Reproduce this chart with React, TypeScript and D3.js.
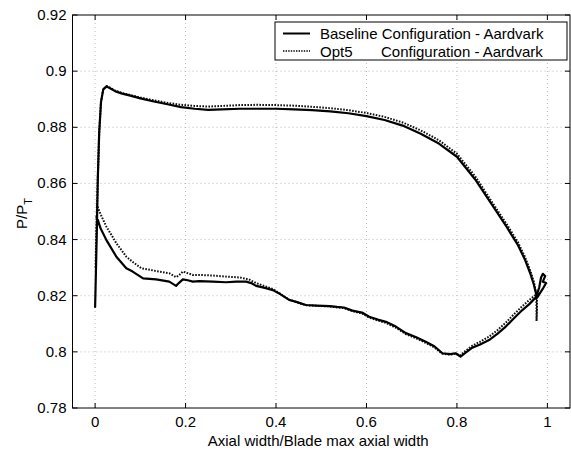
import React from "react";
import * as d3 from "d3";

const xTicks = [0, 0.2, 0.4, 0.6, 0.8, 1];
const yTicks = [0.78, 0.8, 0.82, 0.84, 0.86, 0.88, 0.9, 0.92];
const seriesNames = ["Baseline", "Opt5"];
const legendSuffix = "Configuration - Aardvark";

const baselineUpper: [number, number][] = [
  [0.0, 0.816], [0.002, 0.83], [0.004, 0.845], [0.006, 0.862], [0.009, 0.878],
  [0.013, 0.889], [0.018, 0.8935], [0.025, 0.8945], [0.03, 0.8942], [0.045, 0.8928],
  [0.06, 0.892], [0.08, 0.8912], [0.1, 0.8903], [0.13, 0.8892], [0.16, 0.8882],
  [0.19, 0.8872], [0.22, 0.8866], [0.25, 0.8862], [0.28, 0.8864], [0.32, 0.8866],
  [0.36, 0.8866], [0.4, 0.8866], [0.44, 0.8864], [0.48, 0.8861], [0.52, 0.8857],
  [0.56, 0.885], [0.6, 0.884], [0.64, 0.8826], [0.68, 0.8806], [0.72, 0.8777],
  [0.76, 0.8742], [0.8, 0.8695], [0.84, 0.8615], [0.88, 0.8518], [0.91, 0.8445],
  [0.935, 0.838], [0.95, 0.833], [0.962, 0.828], [0.97, 0.824], [0.976, 0.82],
  [0.982, 0.823], [0.986, 0.8265], [0.99, 0.8278], [0.995, 0.827], [0.99, 0.825],
  [0.997, 0.8245], [0.99, 0.8225], [0.978, 0.8195],
];

const baselineLower: [number, number][] = [
  [0.975, 0.8195], [0.96, 0.817], [0.944, 0.8148], [0.925, 0.8118], [0.908, 0.809],
  [0.89, 0.8065], [0.871, 0.8042], [0.85, 0.8025], [0.834, 0.8015], [0.82, 0.7998],
  [0.808, 0.7983], [0.797, 0.7995], [0.785, 0.7992], [0.768, 0.7995], [0.75, 0.802],
  [0.731, 0.8036], [0.71, 0.8052], [0.687, 0.8067], [0.665, 0.809], [0.643, 0.8107],
  [0.625, 0.8115], [0.606, 0.8125], [0.59, 0.814], [0.569, 0.8147], [0.55, 0.8158],
  [0.535, 0.816], [0.518, 0.8163], [0.49, 0.8165], [0.466, 0.8167], [0.445, 0.8178],
  [0.429, 0.8185], [0.41, 0.8205], [0.393, 0.822], [0.375, 0.8228], [0.356, 0.8235],
  [0.345, 0.8245], [0.334, 0.825], [0.312, 0.825], [0.29, 0.8248], [0.26, 0.825],
  [0.23, 0.8252], [0.216, 0.825], [0.205, 0.8255], [0.194, 0.8258], [0.185, 0.8245],
  [0.179, 0.8235], [0.164, 0.825], [0.135, 0.8258], [0.106, 0.8262], [0.083, 0.8286],
  [0.069, 0.8298], [0.047, 0.8339], [0.025, 0.8398], [0.012, 0.844], [0.006, 0.847],
  [0.003, 0.848],
];

const opt5Upper: [number, number][] = [
  [0.001, 0.83], [0.003, 0.845], [0.006, 0.862], [0.009, 0.878], [0.013, 0.889],
  [0.018, 0.8935], [0.025, 0.8947], [0.03, 0.8944], [0.045, 0.893], [0.06, 0.8922],
  [0.08, 0.8914], [0.1, 0.8906], [0.13, 0.8896], [0.16, 0.8887], [0.19, 0.888],
  [0.22, 0.8876], [0.25, 0.8874], [0.28, 0.8876], [0.32, 0.8879], [0.36, 0.888],
  [0.4, 0.8879], [0.44, 0.8877], [0.48, 0.8873], [0.52, 0.8868], [0.56, 0.8861],
  [0.6, 0.8851], [0.64, 0.8837], [0.68, 0.8817], [0.72, 0.8789], [0.76, 0.8754],
  [0.8, 0.8706], [0.84, 0.8626], [0.88, 0.8528], [0.91, 0.8455], [0.935, 0.839],
  [0.95, 0.834], [0.962, 0.829], [0.97, 0.825], [0.975, 0.821], [0.976, 0.815],
  [0.976, 0.811], [0.977, 0.815], [0.977, 0.8205],
];

const opt5Lower: [number, number][] = [
  [0.976, 0.8205], [0.96, 0.8185], [0.944, 0.8162], [0.925, 0.8132], [0.908, 0.8104],
  [0.89, 0.8078], [0.871, 0.8054], [0.85, 0.8035], [0.834, 0.8022], [0.82, 0.8005],
  [0.808, 0.7988], [0.797, 0.7993], [0.785, 0.799], [0.768, 0.7993], [0.75, 0.8016],
  [0.731, 0.8032], [0.71, 0.8048], [0.687, 0.8063], [0.665, 0.8086], [0.643, 0.8103],
  [0.625, 0.8112], [0.606, 0.8122], [0.59, 0.8137], [0.569, 0.8145], [0.55, 0.8156],
  [0.535, 0.8158], [0.518, 0.8162], [0.49, 0.8164], [0.466, 0.8166], [0.445, 0.8177],
  [0.429, 0.8186], [0.41, 0.8206], [0.393, 0.8224], [0.375, 0.8234], [0.356, 0.8245],
  [0.34, 0.8258], [0.32, 0.8265], [0.29, 0.8268], [0.26, 0.8272], [0.23, 0.8274],
  [0.216, 0.8274], [0.205, 0.828], [0.194, 0.8286], [0.185, 0.8272], [0.179, 0.8266],
  [0.164, 0.828], [0.135, 0.8288], [0.102, 0.8298], [0.085, 0.8318], [0.069, 0.8339],
  [0.047, 0.8387], [0.025, 0.8446], [0.012, 0.849], [0.006, 0.8515], [0.003, 0.8523],
];

const W = 571;
const H = 451;
const M = { left: 72.5, right: 570, top: 15, bottom: 408 };
const FONT = "'Liberation Sans', Arial, Helvetica, sans-serif";

export default function App() {
  const x = d3.scaleLinear().domain([-0.05, 1.05]).range([M.left, M.right]);
  const y = d3.scaleLinear().domain([0.78, 0.92]).range([M.bottom, M.top]);
  const line = d3
    .line<[number, number]>()
    .x((d) => x(d[0]))
    .y((d) => y(d[1]));

  const baselinePath = line([...baselineUpper, ...baselineLower]) || "";
  const opt5Path = line([...opt5Upper, ...opt5Lower]) || "";

  const tickLen = 5;
  const lx = 275, ly = 22, lw = 292, lh = 38;

  return (
    <svg
      width={W}
      height={H}
      style={{ position: "absolute", left: 0, top: 0, background: "#fff" }}
      fontFamily={FONT}
    >
      <rect x={0} y={0} width={W} height={H} fill="#fff" />
      {/* grid */}
      <g stroke="#aaa" strokeWidth={0.8} strokeDasharray="1,3">
        {xTicks.map((t) => (
          <line key={"gx" + t} x1={x(t)} x2={x(t)} y1={M.top} y2={M.bottom} />
        ))}
        {yTicks.slice(1, -1).map((t) => (
          <line key={"gy" + t} x1={M.left} x2={M.right} y1={y(t)} y2={y(t)} />
        ))}
      </g>
      {/* curves */}
      <path
        d={opt5Path}
        fill="none"
        stroke="#111"
        strokeWidth={2}
        strokeDasharray="1.6,1.4"
        strokeLinejoin="round"
      />
      <path
        d={baselinePath}
        fill="none"
        stroke="#000"
        strokeWidth={2.2}
        strokeLinejoin="round"
        strokeLinecap="round"
      />
      {/* axes box */}
      <rect
        x={M.left}
        y={M.top}
        width={M.right - M.left}
        height={M.bottom - M.top}
        fill="none"
        stroke="#000"
        strokeWidth={1}
      />
      <g stroke="#000" strokeWidth={1}>
        {xTicks.map((t) => (
          <g key={"tx" + t}>
            <line x1={x(t)} x2={x(t)} y1={M.bottom} y2={M.bottom - tickLen} />
            <line x1={x(t)} x2={x(t)} y1={M.top} y2={M.top + tickLen} />
          </g>
        ))}
        {yTicks.map((t) => (
          <g key={"ty" + t}>
            <line x1={M.left} x2={M.left + tickLen} y1={y(t)} y2={y(t)} />
            <line x1={M.right} x2={M.right - tickLen} y1={y(t)} y2={y(t)} />
          </g>
        ))}
      </g>
      {/* tick labels */}
      <g fontSize={15} fill="#000">
        {xTicks.map((t) => (
          <text key={"lx" + t} x={x(t)} y={M.bottom + 19} textAnchor="middle">
            {d3.format("~g")(t)}
          </text>
        ))}
        {yTicks.map((t) => (
          <text key={"ly" + t} x={M.left - 6} y={y(t) + 5} textAnchor="end">
            {d3.format("~g")(t)}
          </text>
        ))}
      </g>
      <text x={(M.left + M.right) / 2 - 3} y={446} fontSize={15} textAnchor="middle">
        Axial width/Blade max axial width
      </text>
      <text transform="translate(27,229) rotate(-90)" fontSize={15}>
        P/P
        <tspan fontSize={11} dy={5}>
          T
        </tspan>
      </text>
      {/* legend */}
      <rect x={lx} y={ly} width={lw} height={lh} fill="#fff" stroke="#000" strokeWidth={1} />
      <line x1={lx + 8} x2={lx + 35} y1={ly + 11.5} y2={ly + 11.5} stroke="#000" strokeWidth={2} />
      <line
        x1={lx + 8}
        x2={lx + 35}
        y1={ly + 29}
        y2={ly + 29}
        stroke="#000"
        strokeWidth={1.6}
        strokeDasharray="1.4,1.2"
      />
      <text x={lx + 45} y={ly + 17} fontSize={15}>
        {seriesNames[0] + " " + legendSuffix}
      </text>
      <text x={lx + 45} y={ly + 34.5} fontSize={15}>
        {seriesNames[1]}
      </text>
      <text x={lx + 106} y={ly + 34.5} fontSize={15}>
        {legendSuffix}
      </text>
    </svg>
  );
}
